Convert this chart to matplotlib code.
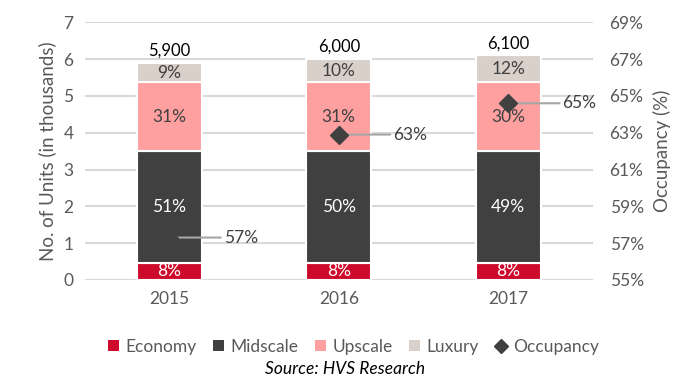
import numpy as np
import matplotlib
matplotlib.use('Agg')
from matplotlib import pyplot as plt
from matplotlib.lines import Line2D
from matplotlib.patches import Patch

plt.rcParams['font.family'] = ['Lato', 'DejaVu Sans']

years = ['2015', '2016', '2017']
# units in thousands per segment
economy = [0.47, 0.47, 0.47]
midscale = [3.02, 3.02, 3.02]
upscale = [1.88, 1.88, 1.88]
luxury = [0.53, 0.63, 0.73]
economy_pct = ['8%', '8%', '8%']
midscale_pct = ['51%', '50%', '49%']
upscale_pct = ['31%', '31%', '30%']
luxury_pct = ['9%', '10%', '12%']
totals = ['5,900', '6,000', '6,100']
occupancy = [57.3, 62.9, 64.6]

seg_names = ['Economy', 'Midscale', 'Upscale', 'Luxury']
seg_vals = [economy, midscale, upscale, luxury]
seg_pcts = [economy_pct, midscale_pct, upscale_pct, luxury_pct]
seg_colors = ['#CE0A2C', '#404040', '#FFA0A0', '#D9D0C9']
seg_text = ['white', 'white', '#404040', '#404040']
grey = '#595959'

fig = plt.figure(figsize=(7, 3.92), dpi=100)
ax = fig.add_axes([0.121, 0.286, 0.726, 0.657])
x = np.arange(len(years))
bottom = np.zeros(len(years))
for vals, pcts, col, tcol in zip(seg_vals, seg_pcts, seg_colors, seg_text):
    bars = ax.bar(x, vals, 0.384, bottom=bottom, color=col, edgecolor='white',
                  linewidth=1.5, zorder=3)
    ax.bar_label(bars, labels=pcts, label_type='center', color=tcol, fontsize=12.5)
    bottom += np.array(vals)
for xi, top, lab in zip(x, bottom, totals):
    ax.annotate(lab, (xi, top), xytext=(0, 3), textcoords='offset points',
                ha='center', va='bottom', fontsize=12, color='black')

ax.set_xlim(-0.5, 2.5)
ax.set_ylim(0, 7)
ax.set_yticks(range(8))
ax.set_xticks(x)
ax.set_xticklabels(years)
ax.grid(axis='y', color='#D9D9D9', linewidth=1.5, zorder=0)
ax.set_axisbelow(True)
for s in ax.spines.values():
    s.set_visible(False)
ax.tick_params(length=0, labelsize=12.5, colors=grey, pad=8)
ax.set_ylabel('No. of Units (in thousands)', fontsize=13.5, color=grey, labelpad=5)

ax2 = ax.twinx()
ax2.set_ylim(55, 69)
ax2.set_yticks(range(55, 70, 2))
ax2.set_yticklabels([f'{t}%' for t in range(55, 70, 2)])
for s in ax2.spines.values():
    s.set_visible(False)
ax2.tick_params(length=0, labelsize=12.5, colors=grey, pad=12)
ax2.set_ylabel('Occupancy (%)', fontsize=13.5, color=grey, labelpad=7)
ax2.plot(x, occupancy, linestyle='none', marker='D', markersize=9, color='#404040', zorder=5)
for xi, v in zip(x, occupancy):
    ax2.annotate(f'{v:.0f}%', (xi, v), xytext=(39, 0), textcoords='offset points',
                 ha='left', va='center', fontsize=12.5, color='#404040',
                 arrowprops=dict(arrowstyle='-', color='#A6A6A6', lw=1.5,
                                 shrinkA=0, shrinkB=2))

handles = [Patch(facecolor=c, label=n) for c, n in zip(seg_colors, seg_names)]
handles.append(Line2D([], [], linestyle='none', marker='D', markersize=7,
                      color='#404040', label='Occupancy'))
fig.legend(handles=handles, loc='center', bbox_to_anchor=(0.505, 0.115), ncol=5,
           frameon=False, fontsize=12.5, handlelength=0.6, handleheight=0.6,
           handletextpad=0.4, columnspacing=0.95, labelcolor=grey)
fig.text(0.493, 0.058, 'Source: HVS Research', ha='center', va='center',
         fontsize=12.5, style='italic', color='black')

fig.savefig('out.png', dpi=100)
